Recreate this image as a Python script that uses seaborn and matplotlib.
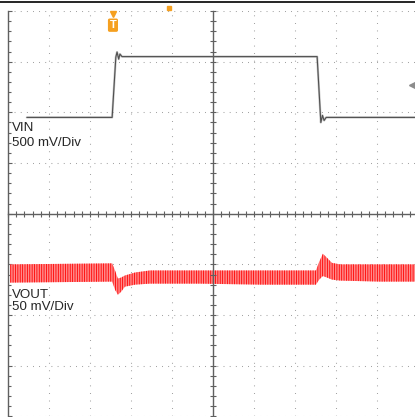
import seaborn as sns
import matplotlib.pyplot as plt
import numpy as np
from matplotlib.lines import Line2D

# Scope capture, values in screen divisions (10 x 8 graticule)
vin_x = [0.46, 2.54, 2.63, 2.66, 2.70, 2.73, 2.78, 7.54, 7.63, 7.67, 7.71, 7.76, 10.0]
vin_y = [5.90, 5.90, 7.09, 7.19, 7.05, 7.15, 7.10, 7.10, 5.80, 5.94, 5.84, 5.90, 5.90]

vout_x = [0.05, 2.54, 2.61, 2.68, 2.76, 2.85, 3.10, 3.46, 4.68, 6.15, 7.51, 7.59,
          7.68, 7.78, 7.90, 8.10, 9.07, 10.0]
vout_hi = [3.00, 3.02, 2.88, 2.72, 2.74, 2.78, 2.84, 2.88, 2.88, 2.88, 2.88, 3.05,
           3.21, 3.13, 3.03, 3.00, 3.00, 3.00]
vout_lo = [2.64, 2.66, 2.50, 2.40, 2.46, 2.56, 2.60, 2.62, 2.62, 2.60, 2.60, 2.70,
           2.77, 2.74, 2.70, 2.68, 2.66, 2.66]

channel_labels = [("VIN", "500 mV/Div"), ("VOUT", "50 mV/Div")]
label_rows = [(5.63, 5.33), (2.34, 2.10)]
trigger_x = 2.56

sns.set_style("white")
plt.rcParams['font.family'] = ['Liberation Sans', 'DejaVu Sans']
plt.rcParams['hatch.linewidth'] = 0.6

W, H = 415, 417
fig = plt.figure(figsize=(W / 100, H / 100), dpi=100)
pos = [8 / W, 0.6 / H, 410 / W, 405.4 / H]
ax = fig.add_axes(pos)
ax.set_xlim(0, 10)
ax.set_ylim(0, 8)

# graticule: dotted lines with a dot on every minor division
ax.set_xticks(np.arange(0, 11, 1))
ax.set_yticks(np.arange(0, 9, 1))
ax.set_yticks(np.arange(0, 8.01, 0.2), minor=True)
ax.xaxis.grid(True, color="#8a8a8a", lw=0.75, linestyle=(0, (0.75, 6.5)))
ax.yaxis.grid(True, color="#8a8a8a", lw=0.75, linestyle=(0, (0.75, 5.15)))
ax.tick_params(axis="x", which="both", length=0, labelbottom=False)
ax.tick_params(axis="y", which="both", direction="in", color="#606060",
               left=True, labelleft=False)
ax.tick_params(axis="y", which="major", length=3, width=0.8)
ax.tick_params(axis="y", which="minor", length=2.2, width=0.8)
for s in ["top", "right", "bottom"]:
    ax.spines[s].set_visible(False)
ax.spines["left"].set_color("#606060")
ax.spines["left"].set_linewidth(1.0)

# center cross with minor ticks
ax2 = fig.add_axes(pos, sharex=ax, sharey=ax)
ax2.patch.set_visible(False)
ax2.spines["left"].set_position(("data", 5))
ax2.spines["bottom"].set_position(("data", 4))
ax2.spines["top"].set_visible(False)
ax2.spines["right"].set_visible(False)
for s in ["left", "bottom"]:
    ax2.spines[s].set_color("#606060")
    ax2.spines[s].set_linewidth(1.0)
ax2.set_xticks(np.arange(0, 10.01, 0.2), minor=True)
ax2.tick_params(which="both", direction="inout", length=4.5, width=0.8,
                color="#606060", bottom=True, left=True,
                labelbottom=False, labelleft=False)
ax2.grid(False)

# traces
ax.fill_between(vout_x, vout_lo, vout_hi, facecolor="#ff8a8a", edgecolor="#ff0000",
                hatch="|||||||", linewidth=0, zorder=3)
sns.lineplot(x=vin_x, y=vin_y, ax=ax, color="#c4c4c4", lw=1.6, sort=False,
             estimator=None, zorder=4)
sns.lineplot(x=vin_x, y=vin_y, ax=ax, color="#505050", lw=0.8, sort=False,
             estimator=None, zorder=5)

# channel labels
for (name, scale), (y1, y2) in zip(channel_labels, label_rows):
    ax.text(0.1, y1, name, fontsize=9.6, va="baseline", ha="left", zorder=6)
    ax.text(0.1, y2, scale, fontsize=9.6, va="baseline", ha="left", zorder=6)

# trigger and channel markers
ax.plot([trigger_x], [7.95], marker="v", ms=5, color="#f5a020", clip_on=False, zorder=7)
ax.text(trigger_x, 7.72, "T", fontsize=8, fontweight="bold", color="white",
        ha="center", va="center", zorder=7,
        bbox=dict(boxstyle="round,pad=0.15", fc="#f5a020", ec="none"))
ax.plot([3.93], [8.06], marker="s", ms=3, color="#f5a020", clip_on=False, zorder=7)
ax.plot([9.88], [6.54], marker="<", ms=6, color="#8c8c8c", clip_on=False, zorder=7)

# scope frame line at the very top
fig.add_artist(Line2D([0, 1], [1 - 1.5 / H, 1 - 1.5 / H], transform=fig.transFigure,
                      color="black", lw=1.2))

fig.savefig("out.png", dpi=100)
